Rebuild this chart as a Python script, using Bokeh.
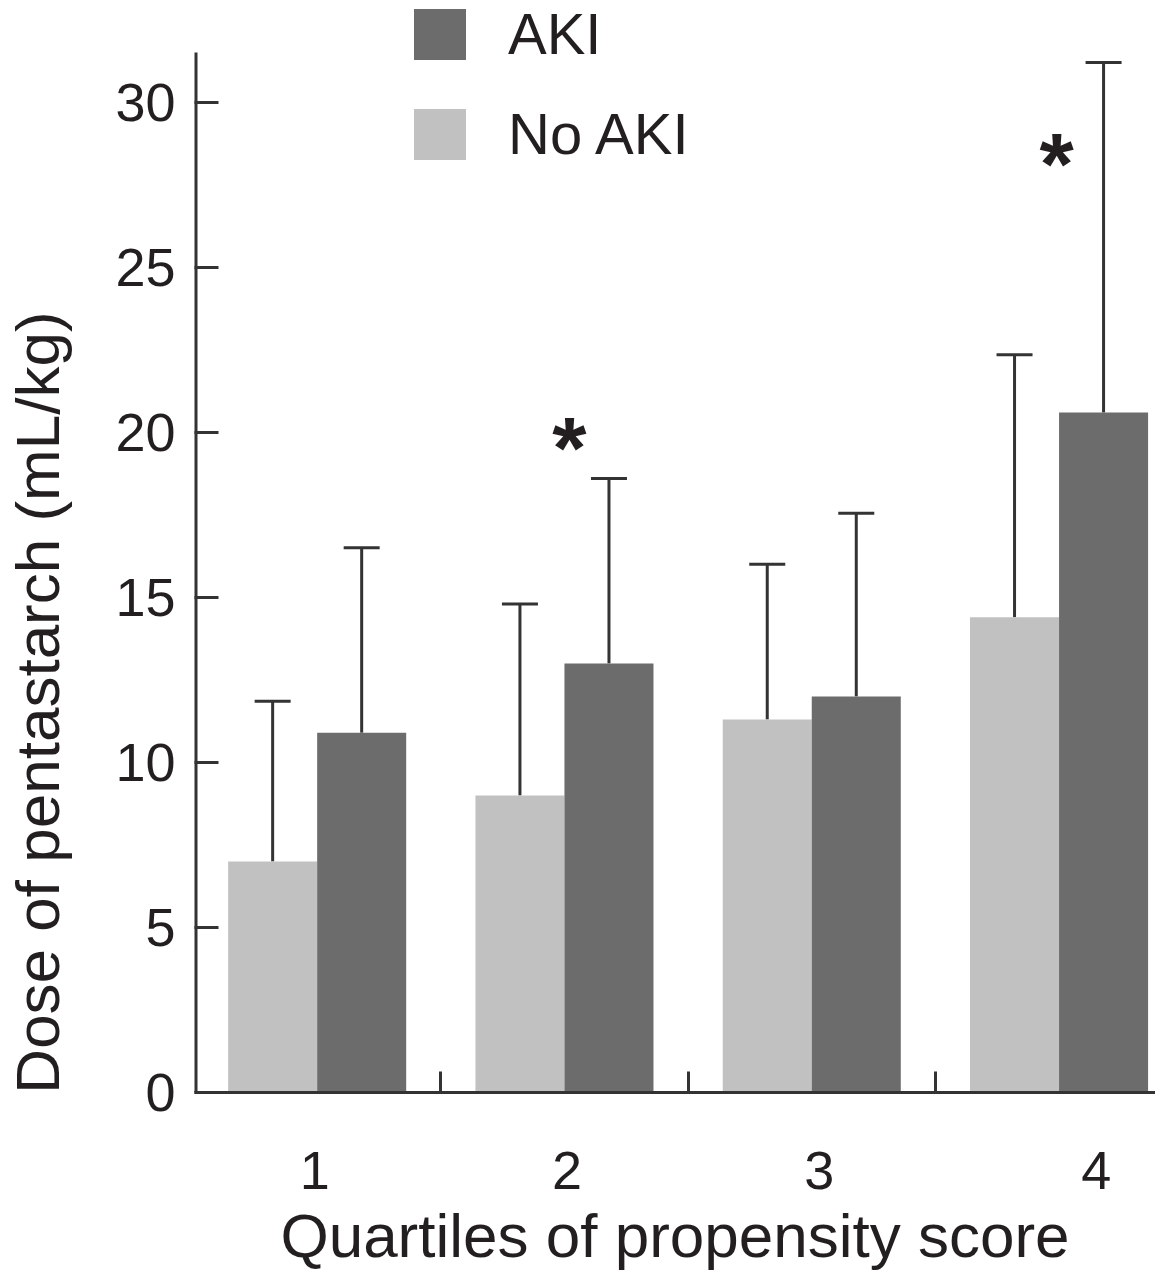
import numpy as np
from bokeh.plotting import figure
from bokeh.models import (ColumnDataSource, Range1d, FixedTicker, Whisker, TeeHead,
                          Legend, LegendItem)
from bokeh.core.properties import value
from bokeh.embed import file_html
from bokeh.resources import INLINE

# ---- data ----
quartiles = ["1", "2", "3", "4"]
no_aki_mean = [7.0, 9.0, 11.3, 14.4]
no_aki_upper = [11.85, 14.8, 16.0, 22.35]
aki_mean = [10.9, 13.0, 12.0, 20.6]
aki_upper = [16.5, 18.6, 17.55, 31.2]
sig_quartile = [2, 4]
sig_y = [20.2, 28.8]
y_ticks = [0, 5, 10, 15, 20, 25, 30]

FONT = "Liberation Sans"
TXT = "#231f20"
LINE = "#333333"
DARK = "#6b6c6b"
LIGHT = "#c0c1c0"

W, H = 1155, 1272
TOP = 2
BOTTOM = 176
Y_TOP = 31.51          # top of the y axis line
PX_PER_UNIT = 33.13
y_hi = (H - BOTTOM - TOP) / PX_PER_UNIT
X_START, X_END = 0.504, 4.39

xc = np.arange(1, len(quartiles) + 1, dtype=float)
off = 0.18
bw = 0.36

src_no = ColumnDataSource(dict(x=xc - off, top=no_aki_mean, upper=no_aki_upper))
src_ak = ColumnDataSource(dict(x=xc + off, top=aki_mean, upper=aki_upper))

p = figure(width=W, height=H, output_backend="svg", toolbar_location=None,
           x_range=Range1d(X_START, X_END), y_range=Range1d(0, y_hi),
           min_border_left=189, min_border_right=0, min_border_top=TOP,
           min_border_bottom=BOTTOM)
p.outline_line_color = None
p.xgrid.grid_line_color = None
p.ygrid.grid_line_color = None
p.background_fill_color = "white"
p.border_fill_color = "white"

r_no = p.vbar(x="x", top="top", bottom=0, width=bw, source=src_no,
              fill_color=LIGHT, line_color=None)
r_ak = p.vbar(x="x", top="top", bottom=0, width=bw, source=src_ak,
              fill_color=DARK, line_color=None)

for src in (src_no, src_ak):
    w = Whisker(source=src, base="x", lower="top", upper="upper", dimension="height",
                line_color=LINE, line_width=3,
                upper_head=TeeHead(size=36, line_color=LINE, line_width=3),
                lower_head=None)
    p.add_layout(w)

# y axis line only up to Y_TOP
p.segment(x0=[X_START], y0=[0], x1=[X_START], y1=[Y_TOP],
          line_color=LINE, line_width=6)

p.text(x=[q + 0.02 - 0.03 * (q == 4) for q in sig_quartile], y=sig_y,
       text=["*", "*"],
       text_font=value(FONT), text_font_style="bold", text_font_size="88px",
       text_color=TXT, text_align="center", text_baseline="middle", y_offset=22)

# axes
lab_shift = {1: -0.01, 2: 0.01, 3: 0.03, 4: 0.15}
label_pos = [float(q) + lab_shift[int(q)] for q in xc]
p.xaxis.ticker = FixedTicker(ticks=label_pos, minor_ticks=[1.5, 2.5, 3.5])
p.xaxis.major_label_overrides = {pos: lab for pos, lab in zip(label_pos, quartiles)}
p.xaxis.major_tick_in = 0
p.xaxis.major_tick_out = 0
p.xaxis.minor_tick_in = 21
p.xaxis.minor_tick_out = 0
p.xaxis.minor_tick_line_color = LINE
p.xaxis.minor_tick_line_width = 3
p.xaxis.axis_label = "Quartiles of propensity score"

p.yaxis.ticker = FixedTicker(ticks=y_ticks)
p.yaxis.major_tick_in = 24
p.yaxis.major_tick_out = 0
p.yaxis.minor_tick_line_color = None
# trailing no-break spaces push the centred title toward the bottom, as in the source
p.yaxis.axis_label = "Dose of pentastarch (mL/kg)" + "\u00a0" * 18

for ax in (p.xaxis[0], p.yaxis[0]):
    ax.axis_line_color = LINE
    ax.axis_line_width = 3
    ax.major_tick_line_color = LINE
    ax.major_tick_line_width = 3
    ax.major_label_text_font = FONT
    ax.major_label_text_font_size = "54px"
    ax.major_label_text_color = TXT
    ax.axis_label_text_font = FONT
    ax.axis_label_text_font_size = "62px"
    ax.axis_label_text_font_style = "normal"
    ax.axis_label_text_color = TXT
p.yaxis.axis_line_color = None

p.xaxis.major_label_standoff = 59
p.xaxis.axis_label_standoff = 9
p.yaxis.major_label_standoff = 19
p.yaxis.axis_label_standoff = 40

legend = Legend(items=[LegendItem(label="AKI", renderers=[r_ak]),
                       LegendItem(label="No AKI", renderers=[r_no])],
                location=(213, 925), orientation="vertical",
                glyph_width=65, glyph_height=64, label_standoff=36, spacing=33,
                padding=0, margin=0, border_line_color=None,
                background_fill_alpha=0,
                label_text_font=FONT, label_text_font_size="58px",
                label_text_color=TXT)
p.add_layout(legend, "center")

open("out.html", "w", encoding="utf-8").write(file_html(p, INLINE))
